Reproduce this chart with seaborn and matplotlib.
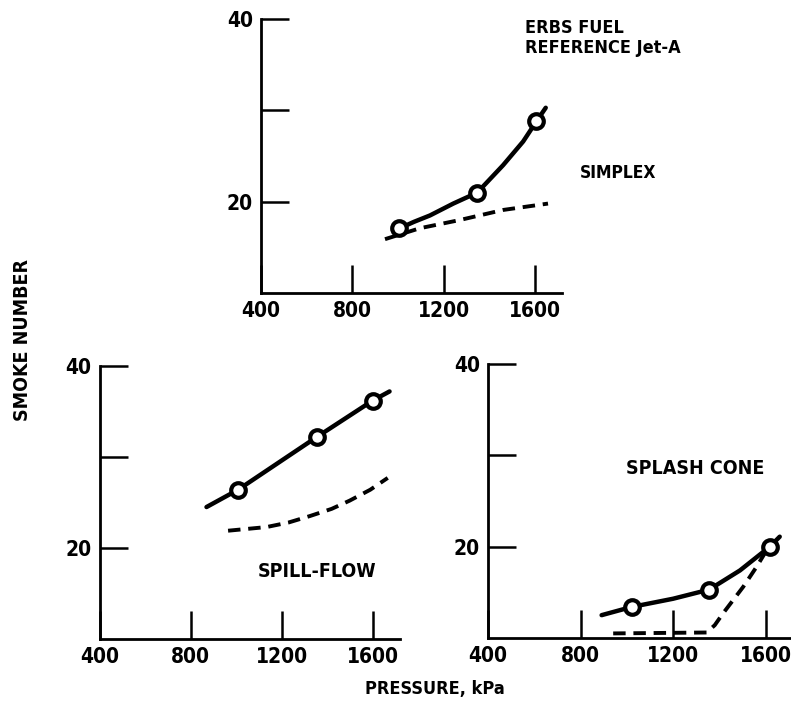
import numpy as np
import pandas as pd
import matplotlib
matplotlib.use("Agg")
import matplotlib.pyplot as plt
import seaborn as sns

# smoke number vs combustor pressure, three injector types
# measured points (open circles)
simplex_pts_p = [1005, 1347, 1606]
simplex_pts = [17.1, 21.0, 28.8]
spill_pts_p = [1008, 1355, 1601]
spill_pts = [26.4, 32.2, 36.2]
splash_pts_p = [1021, 1356, 1618]
splash_pts = [13.4, 15.3, 20.0]

# faired curves (solid = ERBS fuel, dashed = reference Jet-A)
simplex_erbs_p = [990, 1070, 1140, 1242, 1347, 1460, 1548, 1606, 1647]
simplex_erbs = [16.9, 17.8, 18.5, 19.8, 21.0, 24.0, 26.6, 28.8, 30.3]
simplex_ref_p = [943, 1096, 1271, 1460, 1657]
simplex_ref = [15.9, 17.1, 18.0, 19.1, 19.8]

spill_erbs_p = [869, 1008, 1355, 1601, 1675]
spill_erbs = [24.5, 26.4, 32.2, 36.2, 37.2]
spill_ref_p = [964, 1133, 1230, 1323, 1420, 1499, 1590, 1667]
spill_ref = [21.9, 22.3, 22.8, 23.5, 24.3, 25.2, 26.4, 27.7]

splash_erbs_p = [891, 1021, 1200, 1356, 1489, 1618, 1661]
splash_erbs = [12.5, 13.4, 14.3, 15.3, 17.4, 20.0, 21.1]
splash_ref_p = [941, 1345, 1380, 1416, 1503, 1561, 1604]
splash_ref = [10.5, 10.6, 11.4, 12.7, 15.6, 17.8, 19.6]

xticks = [400, 800, 1200, 1600]
yticks = [20, 30, 40]
ylabels = ["20", "", "40"]

sns.set_theme(style="white")
plt.rcParams['font.family'] = ['DejaVu Sans']
plt.rcParams['font.stretch'] = 'condensed'
plt.rcParams['font.weight'] = 'bold'
plt.rcParams['text.color'] = 'black'
plt.rcParams['xtick.color'] = 'black'
plt.rcParams['ytick.color'] = 'black'

fig = plt.figure(figsize=(7.91, 7.02), dpi=100)
ax_top = fig.add_axes([0.330, 0.5826, 0.381, 0.390])
ax_left = fig.add_axes([0.1264, 0.0897, 0.379, 0.389])
ax_right = fig.add_axes([0.617, 0.0912, 0.386, 0.390])

panels = [
    (ax_top, simplex_erbs_p, simplex_erbs, simplex_ref_p, simplex_ref, simplex_pts_p, simplex_pts),
    (ax_left, spill_erbs_p, spill_erbs, spill_ref_p, spill_ref, spill_pts_p, spill_pts),
    (ax_right, splash_erbs_p, splash_erbs, splash_ref_p, splash_ref, splash_pts_p, splash_pts),
]

for ax, ep, ev, rp, rv, mp, mv in panels:
    sns.lineplot(x=ep, y=ev, ax=ax, color='black', lw=3.2, sort=False)
    sns.lineplot(x=rp, y=rv, ax=ax, color='black', lw=2.8, sort=False,
                 linestyle=(0, (3.2, 2.0)))
    ax.plot(mp, mv, 'o', ms=10.5, mfc='white', mec='black', mew=3.0, zorder=5)
    ax.set_xlim(400, 1720)
    ax.set_ylim(10, 40)
    ax.set_xticks(xticks)
    ax.set_yticks(yticks, labels=ylabels)
    ax.tick_params(direction='in', length=20, width=1.8, color='black',
                   labelsize=15, pad=6, bottom=True, left=True)
    for lab in ax.get_xticklabels() + ax.get_yticklabels():
        lab.set_fontweight('bold')
        lab.set_fontstretch('condensed')
    sns.despine(ax=ax)
    for s in ['left', 'bottom']:
        ax.spines[s].set_linewidth(2.0)
        ax.spines[s].set_color('black')
    ax.set_xlabel('')
    ax.set_ylabel('')

txt = dict(color='black', fontweight='bold', fontstretch='condensed', clip_on=False)
ax_top.text(1555, 40, "ERBS FUEL\nREFERENCE Jet-A", ha='left', va='top',
            fontsize=13, linespacing=1.1, **txt)
ax_top.text(1796, 23.1, "SIMPLEX", ha='left', va='center', fontsize=12.5, **txt)
ax_left.text(1358, 17.4, "SPILL-FLOW", ha='center', va='center', fontsize=14, **txt)
ax_right.text(1294, 28.6, "SPLASH CONE", ha='center', va='center', fontsize=14, **txt)

fig.text(0.028, 0.516, "SMOKE NUMBER", rotation=90, ha='center', va='center',
         fontsize=14, fontweight='bold', fontstretch='condensed')
fig.text(0.55, 0.0185, "PRESSURE, kPa", ha='center', va='center',
         fontsize=13, fontweight='bold', fontstretch='condensed')

fig.savefig("out.png", dpi=100, facecolor='white')
